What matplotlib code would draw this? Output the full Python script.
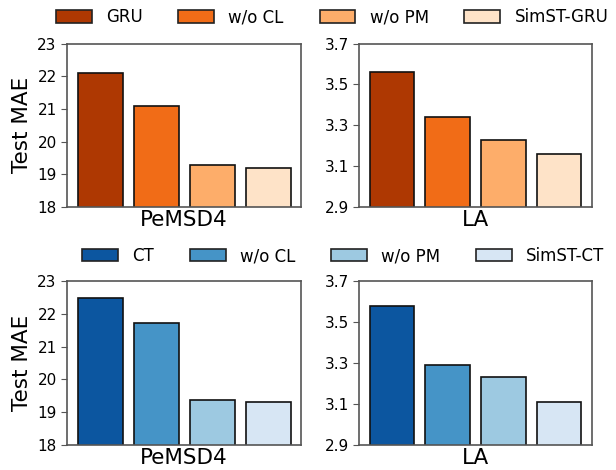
import numpy as np
import matplotlib.pyplot as plt
from matplotlib.patches import Patch

# ablation results (Test MAE)
gru_labels = ["GRU", "w/o CL", "w/o PM", "SimST-GRU"]
ct_labels = ["CT", "w/o CL", "w/o PM", "SimST-CT"]
gru_pems04 = [22.09, 21.10, 19.27, 19.18]
gru_la = [3.56, 3.34, 3.23, 3.16]
ct_pems04 = [22.47, 21.73, 19.38, 19.30]
ct_la = [3.58, 3.29, 3.23, 3.11]

oranges = ["#ae3802", "#f16c17", "#fdad6a", "#fee3c8"]
blues = ["#0c56a0", "#4594c7", "#9dc9e1", "#d7e6f4"]

plt.rcParams['font.size'] = 11
spine_col = "#555555"

fig = plt.figure(figsize=(6.16, 4.7), dpi=100)

def panel(rect, vals, colors, ylim, yticks, xlabel, ylabel=None):
    ax = fig.add_axes(rect)
    x = np.arange(len(vals))
    ax.bar(x, vals, width=0.8, color=colors, edgecolor="#111111", linewidth=1.2)
    ax.set_ylim(*ylim)
    ax.set_yticks(yticks)
    ax.set_xticks([])
    ax.set_xlabel(xlabel, fontsize=15.5, labelpad=2)
    if ylabel:
        ax.set_ylabel(ylabel, fontsize=15.5)
    for s in ax.spines.values():
        s.set_color(spine_col)
        s.set_linewidth(1.2)
    ax.tick_params(axis="y", colors=spine_col, labelcolor="black", labelsize=11, length=4)
    return ax

panel([0.109, 0.560, 0.380, 0.347], gru_pems04, oranges, (18, 23), [18, 19, 20, 21, 22, 23], "PeMSD4", "Test MAE")
panel([0.583, 0.560, 0.378, 0.347], gru_la, oranges, (2.9, 3.7), [2.9, 3.1, 3.3, 3.5, 3.7], "LA")
panel([0.109, 0.053, 0.380, 0.349], ct_pems04, blues, (18, 23), [18, 19, 20, 21, 22, 23], "PeMSD4", "Test MAE")
panel([0.583, 0.053, 0.378, 0.349], ct_la, blues, (2.9, 3.7), [2.9, 3.1, 3.3, 3.5, 3.7], "LA")

def legend(labels, colors, x, y):
    handles = [Patch(facecolor=c, edgecolor="#222222", linewidth=1.2) for c in colors]
    fig.legend(handles, labels, loc="center", bbox_to_anchor=(x, y), ncol=4,
               frameon=False, fontsize=12, handlelength=2.15, handleheight=0.75,
               columnspacing=2.15, handletextpad=0.85)

legend(gru_labels, oranges, 0.539, 0.963)
legend(ct_labels, blues, 0.557, 0.455)

fig.savefig("out.png", dpi=100)
